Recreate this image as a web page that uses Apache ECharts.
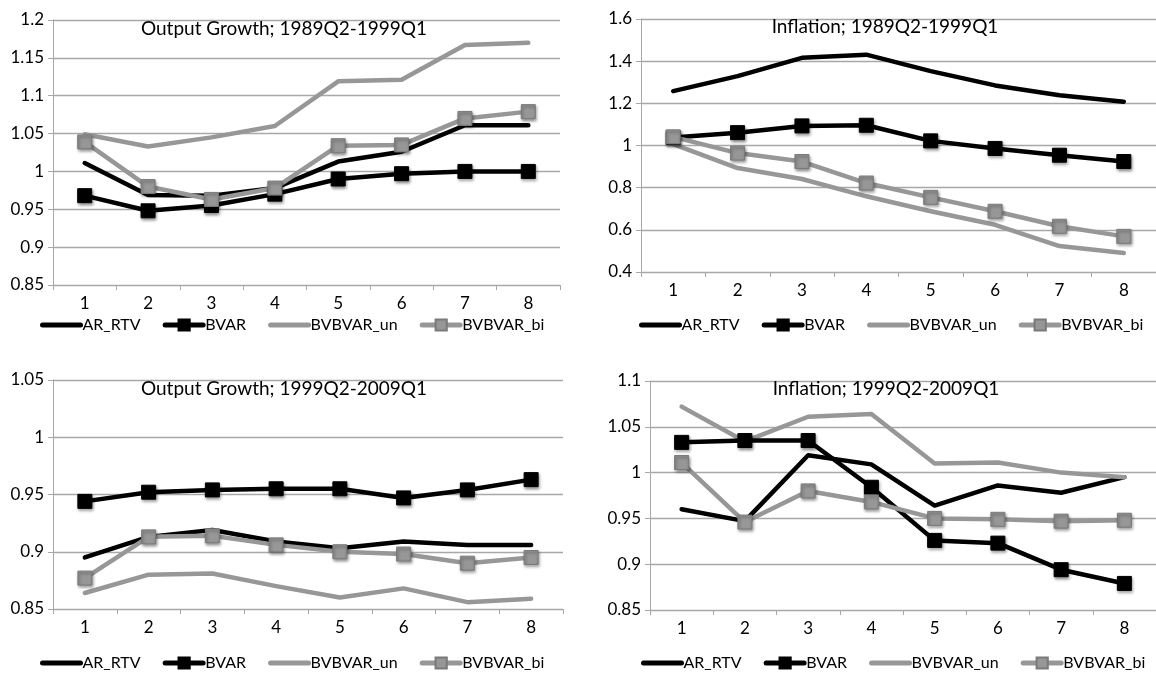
<!DOCTYPE html>
<html>
<head>
<meta charset="utf-8">
<script src="https://cdn.jsdelivr.net/npm/echarts@6/dist/echarts.min.js"></script>
<style>
  html, body { margin: 0; padding: 0; background: #fff; }
  #chart { width: 1156px; height: 676px; }
</style>
</head>
<body>
<div id="chart"></div>
<script>
// horizons 1..8
const categories = ['1', '2', '3', '4', '5', '6', '7', '8'];
const seriesNames = ['AR_RTV', 'BVAR', 'BVBVAR_un', 'BVBVAR_bi'];

// Output Growth; 1989Q2-1999Q1
const outEarlyAR = [1.011, 0.969, 0.968, 0.978, 1.013, 1.026, 1.061, 1.061];
const outEarlyBVAR = [0.968, 0.948, 0.955, 0.970, 0.990, 0.997, 1.000, 1.000];
const outEarlyUn = [1.049, 1.033, 1.045, 1.060, 1.119, 1.121, 1.167, 1.170];
const outEarlyBi = [1.039, 0.980, 0.963, 0.978, 1.034, 1.035, 1.070, 1.079];

// Inflation; 1989Q2-1999Q1
const infEarlyAR = [1.258, 1.329, 1.416, 1.431, 1.353, 1.285, 1.238, 1.208];
const infEarlyBVAR = [1.038, 1.061, 1.093, 1.096, 1.022, 0.986, 0.954, 0.924];
const infEarlyUn = [1.006, 0.893, 0.841, 0.759, 0.688, 0.624, 0.523, 0.490];
const infEarlyBi = [1.041, 0.964, 0.924, 0.822, 0.754, 0.688, 0.617, 0.569];

// Output Growth; 1999Q2-2009Q1
const outLateAR = [0.895, 0.913, 0.919, 0.909, 0.903, 0.909, 0.906, 0.906];
const outLateBVAR = [0.944, 0.952, 0.954, 0.955, 0.955, 0.947, 0.954, 0.963];
const outLateUn = [0.864, 0.880, 0.881, 0.870, 0.860, 0.868, 0.856, 0.859];
const outLateBi = [0.877, 0.913, 0.914, 0.906, 0.900, 0.898, 0.890, 0.895];

// Inflation; 1999Q2-2009Q1
const infLateAR = [0.960, 0.947, 1.019, 1.009, 0.964, 0.986, 0.978, 0.995];
const infLateBVAR = [1.033, 1.035, 1.035, 0.984, 0.926, 0.923, 0.894, 0.879];
const infLateUn = [1.072, 1.034, 1.061, 1.064, 1.010, 1.011, 1.000, 0.995];
const infLateBi = [1.011, 0.946, 0.980, 0.968, 0.950, 0.949, 0.947, 0.948];

const titles = [
  'Output Growth; 1989Q2-1999Q1',
  'Inflation; 1989Q2-1999Q1',
  'Output Growth; 1999Q2-2009Q1',
  'Inflation; 1999Q2-2009Q1'
];
const yMin = [0.85, 0.4, 0.85, 0.85];
const yMax = [1.2, 1.6, 1.05, 1.1];
const yStep = [0.05, 0.2, 0.05, 0.05];

const panelData = [
  [outEarlyAR, outEarlyBVAR, outEarlyUn, outEarlyBi],
  [infEarlyAR, infEarlyBVAR, infEarlyUn, infEarlyBi],
  [outLateAR, outLateBVAR, outLateUn, outLateBi],
  [infLateAR, infLateBVAR, infLateUn, infLateBi]
];

// layout of the four panels
const layout = [
  { grid: { left: 53, top: 20, width: 507, height: 265 }, title: [284, 29], legend: { left: 40, top: 317 } },
  { grid: { left: 641, top: 19, width: 529, height: 253 }, title: [885, 27], legend: { left: 639, top: 317 } },
  { grid: { left: 53, top: 380, width: 510, height: 229 }, title: [284, 389], legend: { left: 40, top: 655 } },
  { grid: { left: 650, top: 381, width: 521, height: 229 }, title: [886, 389], legend: { left: 641, top: 655 } }
];

const FONT = 'Lato, "Open Sans", sans-serif';
const BLACK = '#000000';
const GRAY = '#979797';
const AXIS_GRAY = '#a8a8a8';

const styles = [
  { color: BLACK, symbol: 'none' },
  { color: BLACK, symbol: 'rect', border: '#000000' },
  { color: GRAY, symbol: 'none' },
  { color: GRAY, symbol: 'rect', border: '#7a7a7a' }
];

const grids = [], xAxes = [], yAxes = [], series = [], legends = [], graphics = [];

layout.forEach((p, i) => {
  grids.push(Object.assign({ containLabel: false }, p.grid));
  xAxes.push({
    type: 'category',
    gridIndex: i,
    data: categories,
    boundaryGap: true,
    axisLine: { lineStyle: { color: AXIS_GRAY, width: 1 } },
    axisTick: { show: true, length: 5, lineStyle: { color: AXIS_GRAY } },
    axisLabel: { color: '#000', fontFamily: FONT, fontSize: 17, margin: 10 },
    splitLine: { show: false }
  });
  yAxes.push({
    type: 'value',
    gridIndex: i,
    min: yMin[i],
    max: yMax[i],
    interval: yStep[i],
    axisLine: { show: true, lineStyle: { color: AXIS_GRAY, width: 1 } },
    axisTick: { show: true, length: 5, lineStyle: { color: AXIS_GRAY } },
    axisLabel: { color: '#000', fontFamily: FONT, fontSize: 17, margin: 9 },
    splitLine: { show: true, lineStyle: { color: AXIS_GRAY, width: 1.3 } }
  });
  panelData[i].forEach((vals, k) => {
    const s = styles[k];
    series.push({
      name: seriesNames[k],
      type: 'line',
      xAxisIndex: i,
      yAxisIndex: i,
      data: vals,
      symbol: s.symbol,
      symbolSize: 14,
      showSymbol: s.symbol !== 'none',
      z: k === 1 || k === 3 ? 4 : 3,
      lineStyle: { color: s.color, width: 4.5, cap: 'round', join: 'round' },
      itemStyle: {
        color: s.color,
        borderColor: s.border || s.color,
        borderWidth: 1,
        shadowColor: 'rgba(0,0,0,0.45)',
        shadowBlur: 3,
        shadowOffsetX: 1,
        shadowOffsetY: 2
      },
      emphasis: { disabled: true },
      animation: false
    });
  });
  legends.push({
    left: p.legend.left,
    top: p.legend.top,
    width: 600,
    padding: 0,
    data: seriesNames.map((n, k) => styles[k].symbol === 'none'
      ? { name: n, itemStyle: { opacity: 0 } }
      : { name: n }),
    itemWidth: 38,
    itemHeight: 14,
    itemGap: 22,
    selectedMode: false,
    lineStyle: { width: 5 },
    textStyle: { color: '#000', fontFamily: FONT, fontSize: 16, padding: [0, 0, 0, -3] }
  });
  graphics.push({
    type: 'text',
    x: p.title[0],
    y: p.title[1],
    style: {
      text: titles[i],
      fill: '#000',
      font: '19px ' + FONT,
      textAlign: 'center',
      textVerticalAlign: 'middle'
    },
    z: 10
  });
});

const myChart = echarts.init(document.getElementById('chart'));
myChart.setOption({
  backgroundColor: '#ffffff',
  animation: false,
  grid: grids,
  xAxis: xAxes,
  yAxis: yAxes,
  legend: legends,
  series: series,
  graphic: graphics
});
</script>
</body>
</html>
